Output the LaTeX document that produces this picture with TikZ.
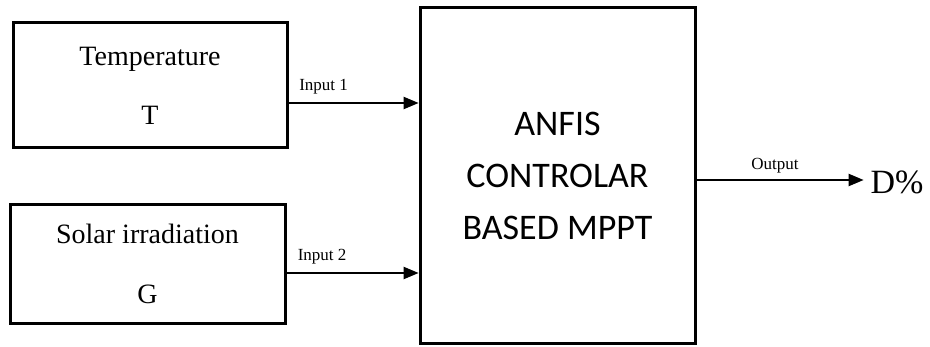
\documentclass[tikz,border=0pt]{standalone}
\usepackage{fontspec}
\setmainfont{Liberation Serif}
\newfontfamily\ctrlfont{Carlito}
\usetikzlibrary{arrows}

\begin{document}
\begin{tikzpicture}[x=0.5pt, y=-0.5pt,
  blocks/.style={draw, line width=1.5pt, inner sep=0pt, align=center},
  paths/.style={->, line width=0.7pt, >=triangle 45},
  labels/.style={font=\fontsize{8.5}{10}\selectfont, inner sep=1pt}]

 \useasboundingbox (0,0) rectangle (930,347);

 \node [blocks, minimum width=137pt, minimum height=62.5pt,
        font=\fontsize{14}{29.5}\selectfont] (block_temp) at (150,85.5)
     {Temperature\\T};

 \node [blocks, minimum width=137.5pt, minimum height=59pt,
        font=\fontsize{14}{30}\selectfont] (block_solar) at (147.5,264)
     {Solar irradiation\\G};

 \node [blocks, minimum width=137.5pt, minimum height=167.5pt,
        font=\ctrlfont\fontsize{18}{26}\selectfont] (block_anfis) at (557.5,175.5)
     {ANFIS\\CONTROLAR\\BASED MPPT};

 \node [font=\fontsize{17}{20}\selectfont] (out_d) at (897,182)
     {D\%};

 \coordinate (in_1) at ([yshift=-8.75pt]block_temp.east);
 \coordinate (in_2) at ([yshift=-4.5pt]block_solar.east);
 \coordinate (out_1) at ([yshift=-2.25pt]block_anfis.east);

 \draw [paths] (in_1) -- node [labels, above=3pt, pos=0.27] {Input 1} (in_1 -| block_anfis.west);
 \draw [paths] (in_2) -- node [labels, above=3pt, pos=0.27] {Input 2} (in_2 -| block_anfis.west);
 \draw [paths] (out_1) -- node [labels, above=2pt, pos=0.47] {Output} (out_1 -| out_d.west);

\end{tikzpicture}
\end{document}
